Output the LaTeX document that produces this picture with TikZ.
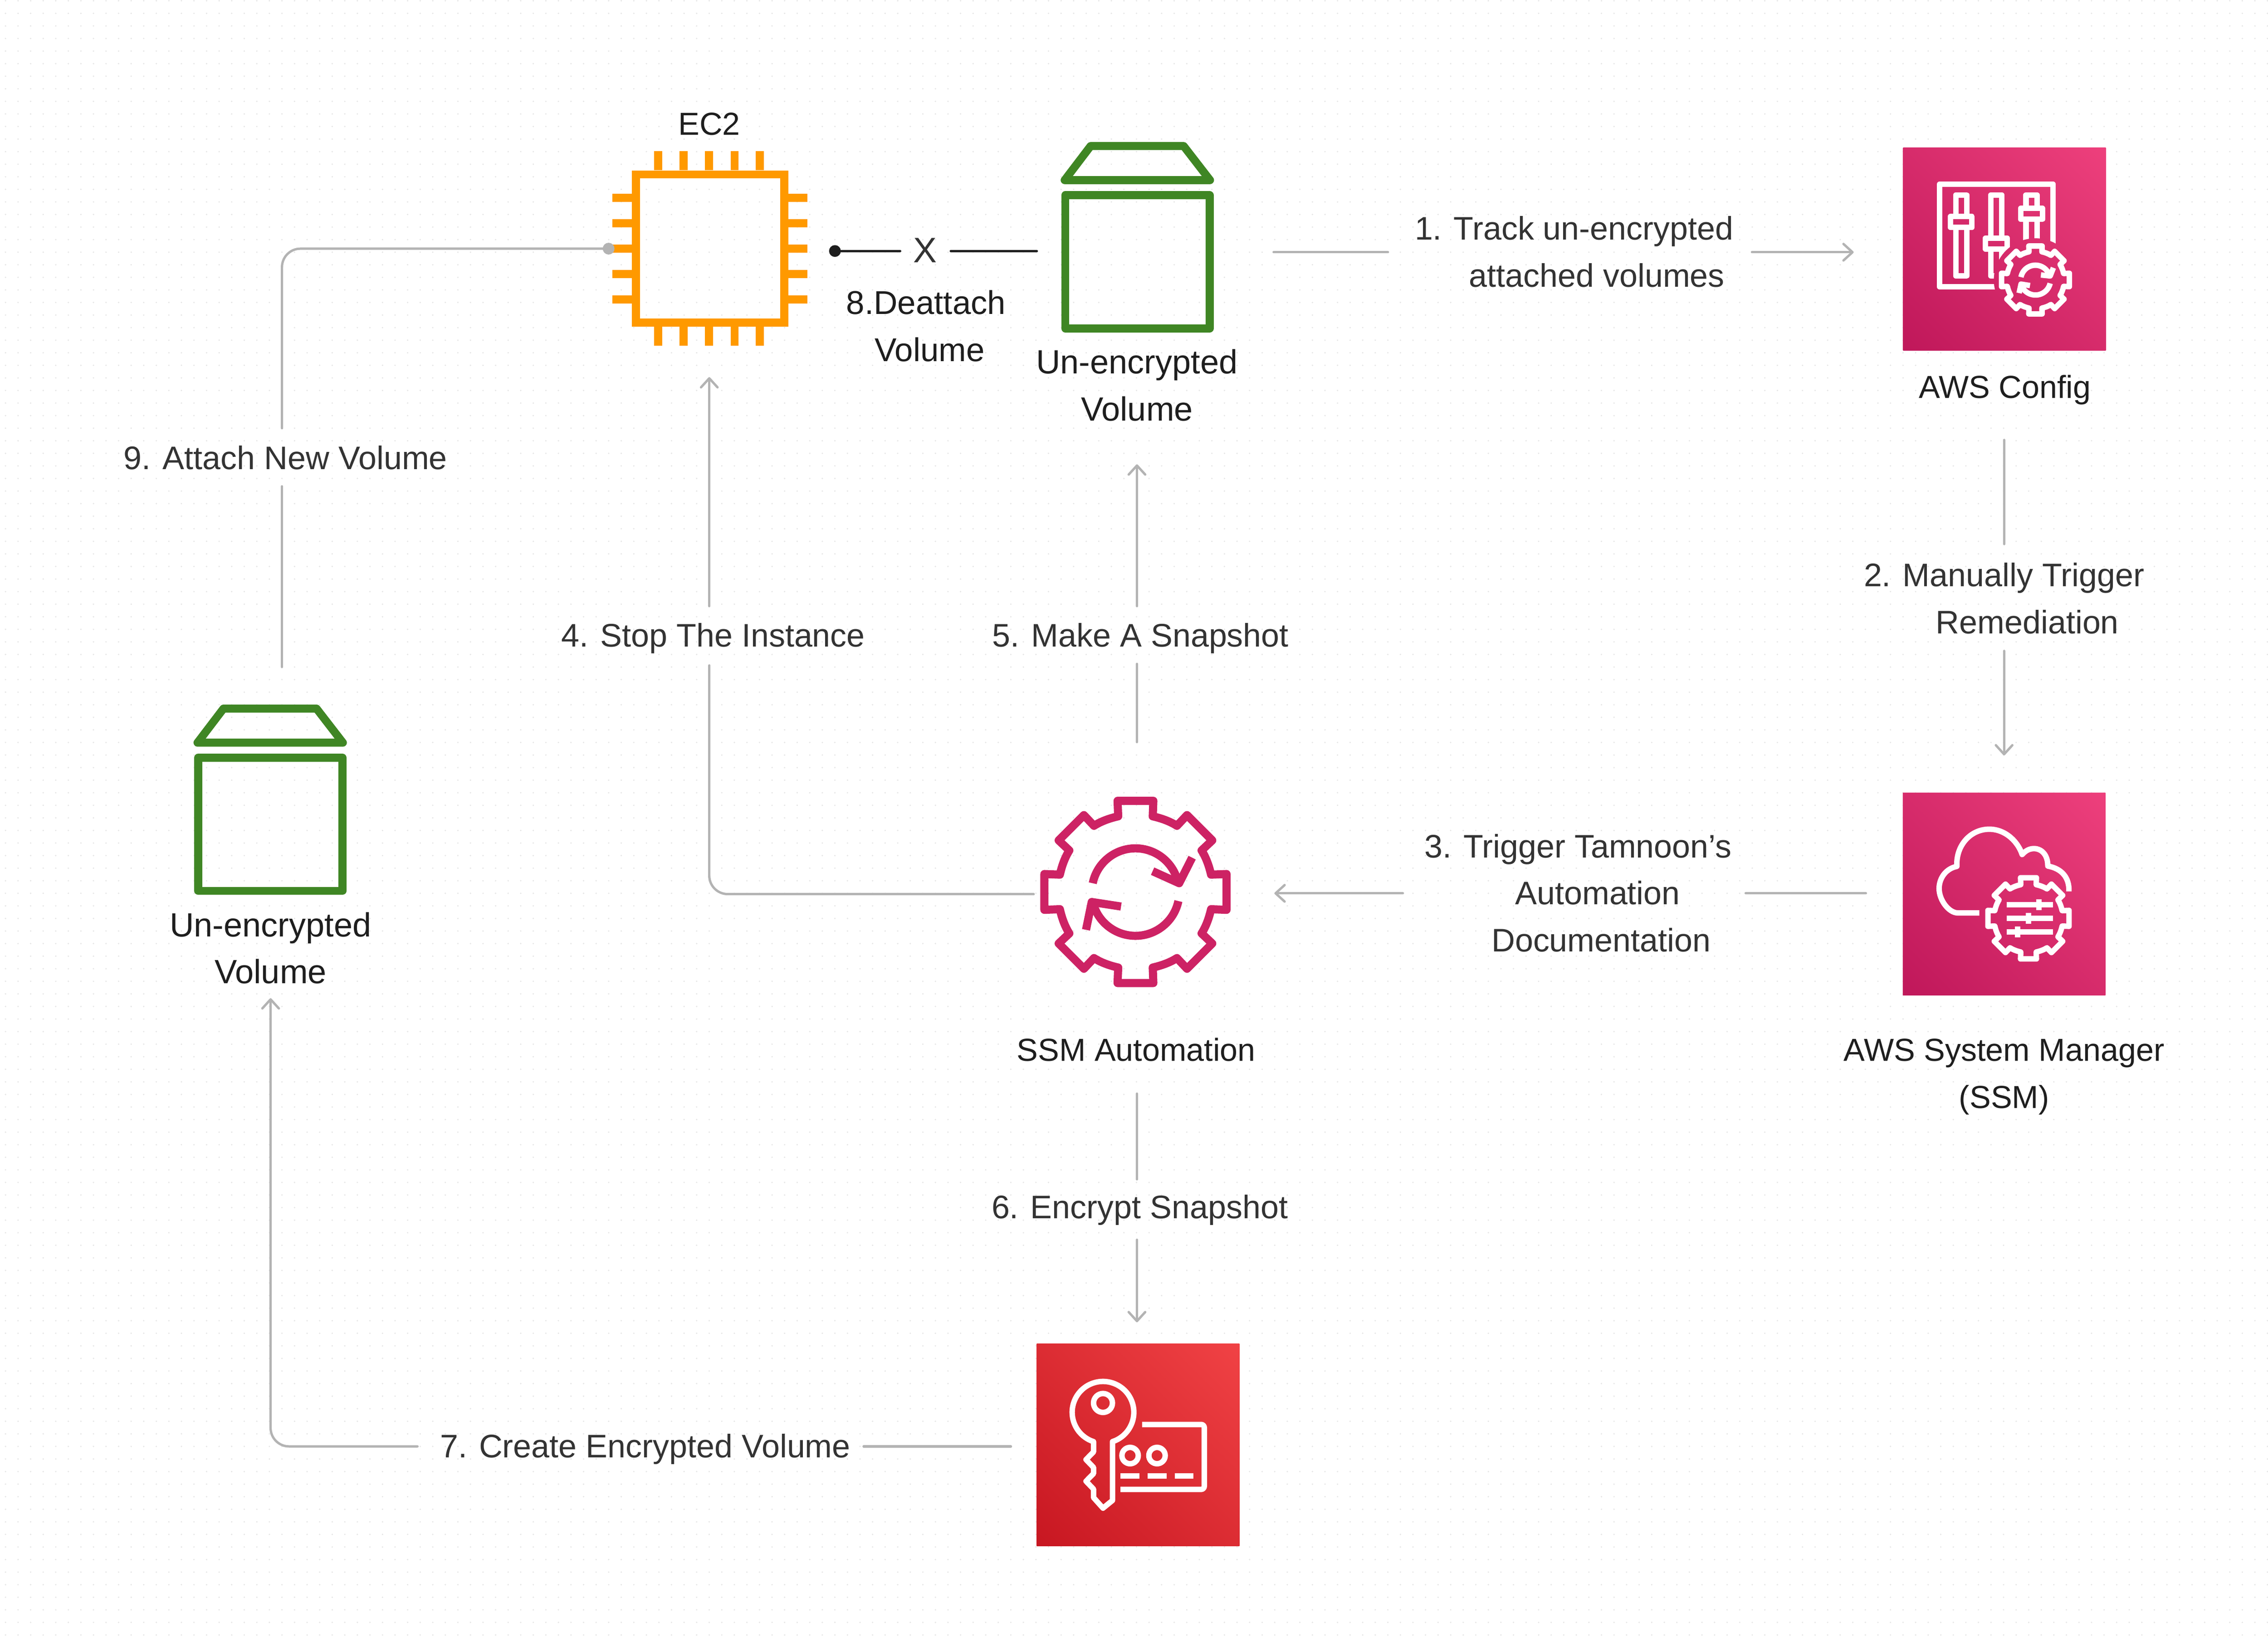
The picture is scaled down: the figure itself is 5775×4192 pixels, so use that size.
\documentclass[tikz,border=0pt]{standalone}
\usepackage{fontspec}
\setmainfont{Liberation Sans}
\usetikzlibrary{arrows.meta}
\definecolor{dotc}{HTML}{E5E5E5}
\definecolor{linec}{HTML}{B3B3B3}
\definecolor{inkA}{HTML}{1E1E1E}
\definecolor{inkB}{HTML}{333333}
\definecolor{chip}{HTML}{FF9900}
\definecolor{vol}{HTML}{3F8624}
\definecolor{gearc}{HTML}{CD2264}
\definecolor{pinkA}{HTML}{B60F53}
\definecolor{pinkB}{HTML}{F74883}
\definecolor{redA}{HTML}{BF0E1A}
\definecolor{redB}{HTML}{F94B4C}
\pgfdeclareverticalshading{awspink}{100bp}{color(0bp)=(pinkA); color(100bp)=(pinkB)}
\pgfdeclareverticalshading{awsred}{100bp}{color(0bp)=(redA); color(100bp)=(redB)}
\newcommand{\geartrace}{(119,606) -- (115,503) .. controls (171.5,490) and (227,471) .. (276,440) -- (343,511) -- (511,343) -- (440,276) .. controls (471,227) and (490,171.5) .. (503,115) -- (606,119) -- (606,-119) -- (503,-115) .. controls (490,-171.5) and (471,-227) .. (440,-276) -- (511,-343) -- (343,-511) -- (276,-440) .. controls (227,-471) and (171.5,-490) .. (115,-503) -- (119,-606) -- (-119,-606) -- (-115,-503) .. controls (-171.5,-490) and (-227,-471) .. (-276,-440) -- (-343,-511) -- (-511,-343) -- (-440,-276) .. controls (-471,-227) and (-490,-171.5) .. (-503,-115) -- (-606,-119) -- (-606,119) -- (-503,115) .. controls (-490,171.5) and (-471,227) .. (-440,276) -- (-511,343) -- (-343,511) -- (-276,440) .. controls (-227,471) and (-171.5,490) .. (-115,503) -- (-119,606) -- cycle}
\newcommand{\volumeglyph}{%
  \draw[volline] (2712.5,497) rectangle (3080,836);
  \draw[volline] (2711,458.5) -- (2777,371.8) -- (3014,371.8) -- (3081,458.5) -- cycle;
}
\tikzset{
  dotrow/.style={dotc,line width=.4pt,line cap=round,dash pattern=on 0pt off 3.2pt},
  conn/.style={linec,line width=.6pt,line cap=round,line join=round},
  arr/.style={conn,-{Straight Barb[length=2.3pt,width=4.2pt,round]}},
  volline/.style={vol,line width=2.04pt,line join=round},
  chipline/.style={chip,line width=2.05pt},
  iconline/.style={white,line width=1.39pt,line join=round},
  bigline/.style={gearc,line width=2.07pt,line join=round},
  darkline/.style={inkA,line width=.6pt,line cap=round},
  box/.style={shade,shading angle=-45,minimum size=51.6pt,inner sep=0pt,outer sep=0pt},
  lab/.style={align=center,inner sep=0pt,outer sep=0pt,anchor=center,text=inkB,font=\fontsize{8.3}{12}\selectfont},
  ilab/.style={lab,text=inkA,font=\fontsize{8.1}{12}\selectfont},
  vlab/.style={ilab,font=\fontsize{8.55}{12}\selectfont},
  zoomA/.style={x=0.0408163pt,y=-0.0408163pt},
  upA/.style={x=0.0408163pt,y=0.0408163pt}
}
\begin{document}
\begin{tikzpicture}[x=0.1pt,y=-0.1pt]
\useasboundingbox (0,0) rectangle (5775,4192);
\fill[white] (0,0) rectangle (5775,4192);
\foreach \r in {0,...,130} \draw[dotrow] (14,{2+32*\r}) -- (5775,{2+32*\r});

% ---------- coloured boxes
\node[box,shading=awspink] (config) at (5104,634) {};
\node[box,shading=awspink] (ssm) at (5103,2276) {};
\node[box,shading=awsred] (kms) at (2898,3678) {};

% ---------- AWS Config icon
\begin{scope}[shift={(4800,320)},zoomA]
  \begin{scope}[even odd rule]
    \clip (0,0) rectangle (1600,1600) (938,962) circle (260);
    \draw[iconline] (1048,800) -- (1048,365) -- (340,365) -- (340,1005) -- (720,1005);
    \draw[iconline] (408,567) rectangle (542,635);
    \draw[iconline] (441,567) -- (441,432) -- (509,432) -- (509,567);
    \draw[iconline] (441,635) -- (441,937) -- (509,937) -- (509,635);
    \draw[iconline] (627,702) rectangle (762,769);
    \draw[iconline] (660,702) -- (660,432) -- (728,432) -- (728,702);
    \draw[iconline] (660,769) -- (660,937) -- (700,937);
    \draw[iconline] (728,769) -- (728,880);
    \draw[iconline] (846,516) rectangle (981,584);
    \draw[iconline] (879,516) -- (879,432) -- (947,432) -- (947,516);
    \draw[iconline] (879,584) -- (879,800);
    \draw[iconline] (947,584) -- (947,800);
  \end{scope}
  \begin{scope}[shift={(938,962)},x=0.014245pt,y=0.014245pt]
    \draw[iconline] \geartrace;
  \end{scope}
  \begin{scope}[shift={(938,962)},upA]
    \draw[iconline] (169:92) arc[start angle=169,end angle=15,radius=92];
    \draw[iconline] (34,31) -- (92,25) -- (112,76);
    \draw[iconline] (-13:94) arc[start angle=-13,end angle=-165,radius=94];
    \draw[iconline] (-34,-35) -- (-90,-26) -- (-102,-82);
  \end{scope}
\end{scope}

% ---------- Systems Manager icon
\begin{scope}[shift={(4800,1970)},zoomA]
  \draw[iconline] (588,867) -- (452,867) .. controls (400,867) and (337,790) .. (337,715) .. controls (337,650) and (380,590) .. (448,577) .. controls (440,450) and (530,345) .. (650,345) .. controls (745,345) and (825,415) .. (855,503) .. controls (875,480) and (900,466) .. (928,466) .. controls (980,466) and (1016,510) .. (1015,575) .. controls (1100,590) and (1150,645) .. (1147,733);
  \begin{scope}[shift={(894.5,901)},x=0.017040pt,y=0.017040pt]
    \draw[iconline] \geartrace;
  \end{scope}
  \draw[iconline] (759,817) -- (1046,817);
  \draw[iconline] (759,901) -- (1046,901);
  \draw[iconline] (759,985) -- (1046,985);
  \draw[iconline] (961,783) -- (961,851);
  \draw[iconline] (894,867) -- (894,935);
  \draw[iconline] (826,951) -- (826,1019);
\end{scope}

% ---------- KMS icon
\begin{scope}[shift={(2600,3400)},zoomA]
  \begin{scope}[shift={(511,478)},upA]
    \draw[iconline] (-72.1:192.3) arc[start angle=-72.1,end angle=252.1,radius=192.3] -- (-59,-247) -- (-106,-295) -- (-59,-344) -- (-59,-382) -- (-106,-430) -- (-59,-479) -- (-59,-532) -- (0,-598) -- (59,-550) -- cycle;
    \draw[iconline] (0,58) circle (59);
    \draw[iconline] (169,-270) circle (51);
    \draw[iconline] (337,-270) circle (51);
  \end{scope}
  \draw[iconline,rounded corners=.8pt] (755,554) -- (1143,554) -- (1143,959) -- (620,959);
  \draw[iconline] (620,874) -- (739,874);
  \draw[iconline] (789,874) -- (907,874);
  \draw[iconline] (958,874) -- (1076,874);
\end{scope}

% ---------- EC2 chip
\foreach \p in {1676,1740.3,1805.3,1870.4,1934.7} {
  \draw[chipline] (\p,385) -- (\p,433.5);
  \draw[chipline] (\p,832) -- (\p,880.4);
}
\foreach \p in {503.3,568.2,632.7,698,762.4} {
  \draw[chipline] (1559.7,\p) -- (1609,\p);
  \draw[chipline] (2006.6,\p) -- (2055.6,\p);
}
\draw[chipline] (1619,444) rectangle (1996.7,821.5);

% ---------- volumes
\volumeglyph
\begin{scope}[shift={(-2208,1432)}]
  \volumeglyph
\end{scope}

% ---------- SSM Automation gear
\begin{scope}[shift={(2891.2,2270.5)},x=0.03827pt,y=0.03827pt]
  \draw[bigline] \geartrace;
  \draw[bigline] (168.5:290) arc[start angle=168.5,end angle=11.5,radius=290];
  \draw[bigline] (114,138) -- (291,58) -- (377,228);
  \draw[bigline] (-12:292) arc[start angle=-12,end angle=-167,radius=292];
  \draw[bigline] (-96,-97) -- (-291,-67) -- (-329,-252);
\end{scope}

% ---------- labels
\node[ilab] (lec2) at (1806,320) {\strut EC2};
\node[ilab,font=\fontsize{8.4}{12}\selectfont] (l8) at (2358,836) {\strut 8.Deattach\\\hspace*{1.8pt}\strut Volume};
\node[ilab,text=inkB,font=\fontsize{9}{12}\selectfont] (lx) at (2356,644) {\strut X};
\node[vlab] (lvol1) at (2895,987) {\strut Un-encrypted\\\strut Volume};
\node[ilab] (lconfig) at (5105,990) {\strut AWS Config};
\node[lab] (l9) at (727,1171) {\strut 9.\hspace{3pt}Attach New Volume};
\node[lab] (l4) at (1816,1623) {\strut 4.\hspace{3pt}Stop The Instance};
\node[lab] (l5) at (2904,1623) {\strut 5.\hspace{3pt}Make A Snapshot};
\node[lab] (l2) at (5103,1529) {\strut 2.\hspace{3pt}Manually Trigger\\\hspace*{11.8pt}\strut Remediation};
\node[lab] (l3) at (4018,2279) {\strut 3.\hspace{3pt}Trigger Tamnoon’s\\\hspace*{10pt}\strut Automation\\\hspace*{11.8pt}\strut Documentation};
\node[vlab] (lvol2) at (689,2420) {\strut Un-encrypted\\\strut Volume};
\node[ilab] (lauto) at (2893,2677) {\strut SSM Automation};
\node[ilab] (lsm) at (5103,2737) {\strut AWS System Manager\\\strut (SSM)};
\node[lab] (l6) at (2902,3078) {\strut 6.\hspace{3pt}Encrypt Snapshot};
\node[lab] (l7) at (1643,3686) {\strut 7.\hspace{3pt}Create Encrypted Volume};
\node[lab] (l1) at (4008,646) {\strut 1.\hspace{3pt}Track un-encrypted\\\hspace*{11.6pt}\strut attached volumes};

% ---------- connector ends
\coordinate (a1) at (3243,642);   \coordinate (a2) at (3534,642);
\coordinate (a3) at (4461,642);   \coordinate (a4) at (4720,642);
\coordinate (b1) at (5103,1120);  \coordinate (b2) at (5103,1385);
\coordinate (b3) at (5103,1657);  \coordinate (b4) at (5103,1923);
\coordinate (c1) at (4751,2274);  \coordinate (c2) at (4445,2274);
\coordinate (c3) at (3572,2274);  \coordinate (c4) at (3245,2274);
\coordinate (d1) at (2632,2276);  \coordinate (d2) at (1806,2276);
\coordinate (d3) at (1806,1694);  \coordinate (d4) at (1806,1543);
\coordinate (d5) at (1806,960);
\coordinate (e1) at (2895,1889);  \coordinate (e2) at (2895,1690);
\coordinate (e3) at (2895,1543);  \coordinate (e4) at (2895,1182);
\coordinate (f1) at (2895,2784);  \coordinate (f2) at (2895,3002);
\coordinate (f3) at (2895,3156);  \coordinate (f4) at (2895,3366);
\coordinate (g1) at (2574,3682);  \coordinate (g2) at (2199,3682);
\coordinate (g3) at (1063,3682);  \coordinate (g4) at (689,3682);
\coordinate (g5) at (689,2541);
\coordinate (h1) at (718,1698);   \coordinate (h2) at (718,1238);
\coordinate (h3) at (718,1090);   \coordinate (h4) at (718,633);
\coordinate (h5) at (1549.7,633);
\coordinate (x1) at (2126,639);   \coordinate (x2) at (2292,639);
\coordinate (x3) at (2421,639);   \coordinate (x4) at (2640,639);

% ---------- connectors
\draw[conn] (a1) -- (a2);
\draw[arr] (a3) -- (a4);
\draw[conn] (b1) -- (b2);
\draw[arr] (b3) -- (b4);
\draw[conn] (c1) -- (c2);
\draw[arr] (c3) -- (c4);
\draw[conn,rounded corners=4.7pt] (d1) -- (d2) -- (d3);
\draw[arr] (d4) -- (d5);
\draw[conn] (e1) -- (e2);
\draw[arr] (e3) -- (e4);
\draw[conn] (f1) -- (f2);
\draw[arr] (f3) -- (f4);
\draw[conn] (g1) -- (g2);
\draw[conn,arr,rounded corners=4.7pt] (g3) -- (g4) -- (g5);
\draw[conn] (h1) -- (h2);
\draw[conn,rounded corners=4.7pt] (h3) -- (h4) -- (h5);
\fill[linec] (h5) circle (15);
\draw[darkline] (x1) -- (x2);
\draw[darkline] (x3) -- (x4);
\fill[inkA] (x1) circle (15);
\end{tikzpicture}
\end{document}
